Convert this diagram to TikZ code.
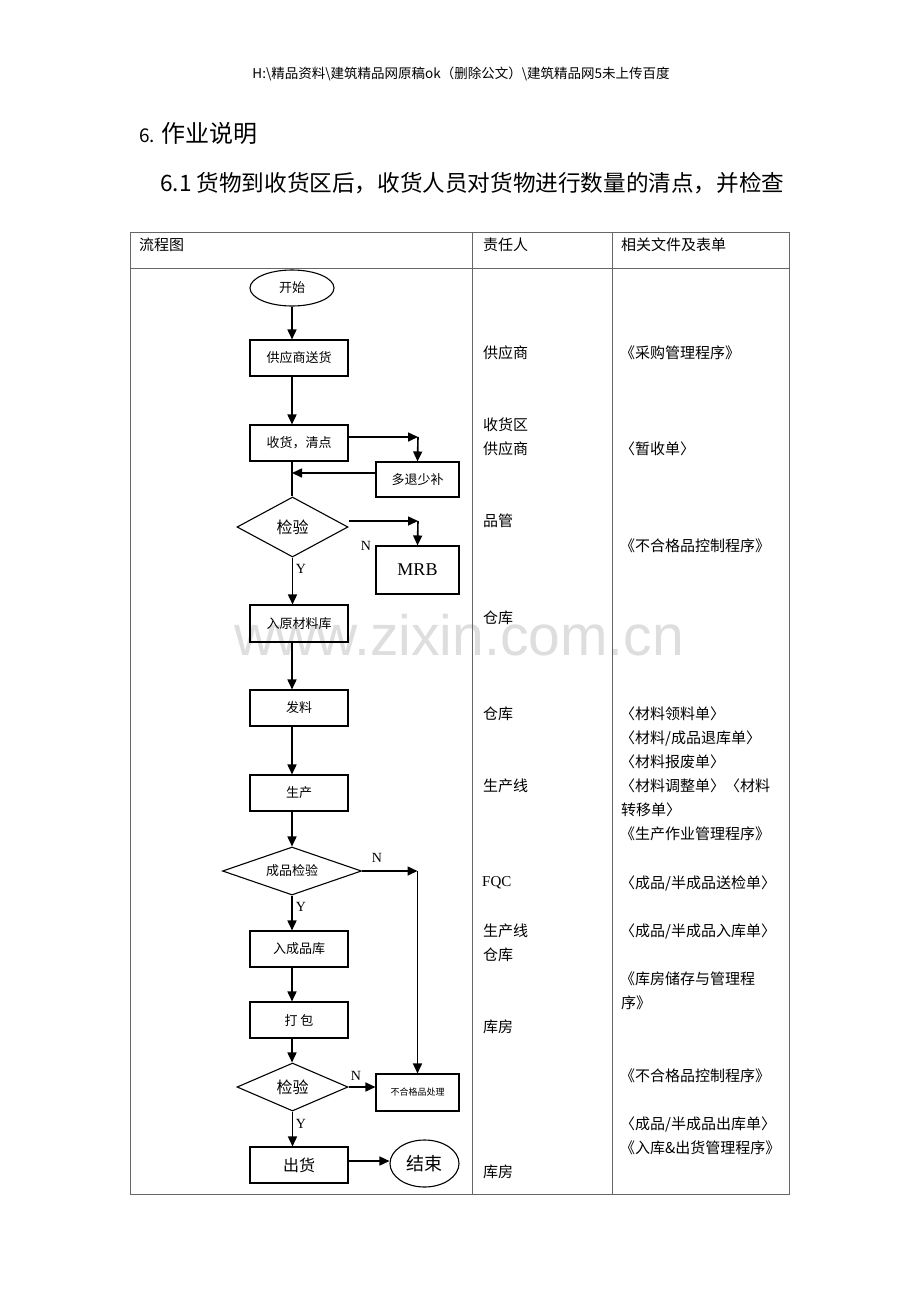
\documentclass[tikz,border=0pt]{standalone}
\usepackage{fontspec}
\setmainfont{Noto Sans CJK SC}
\newfontfamily\serifpart{Liberation Serif}
\newfontfamily\markfont{Liberation Sans}
\usepackage{tikz}
\usetikzlibrary{arrows.meta}
\usetikzlibrary{shapes.geometric}
\usetikzlibrary{calc}
\tikzset{flow/.style = {-{Triangle[length=10pt, width=9pt]}, line width=1.6pt}}
\tikzset{box/.style = {draw, line width=1.1pt, minimum width=98, minimum height=36,
                       inner sep=0, font=\fontsize{13}{15}\selectfont}}
\tikzset{sidebox/.style = {box, minimum width=83, minimum height=35}}
\tikzset{check/.style = {draw, diamond, aspect=2, line width=1.1pt, inner sep=0}}
\tikzset{term/.style = {draw, ellipse, line width=1.1pt, inner sep=0}}
\tikzset{yn/.style = {inner sep=0, font=\serifpart\fontsize{14}{14}\selectfont}}
\tikzset{cell/.style = {anchor=west, inner sep=0, font=\fontsize{15}{15}\selectfont}}
\definecolor{rulegray}{rgb}{0.4, 0.4, 0.4}
\definecolor{markgray}{rgb}{0.87, 0.87, 0.87}

\begin{document}
\begin{tikzpicture}[x=1pt, y=-1pt]
    \fill [white] (0, 0) rectangle (920, 1302);
    \useasboundingbox (0, 0) rectangle (920, 1302);

    \node (wmark) at (459, 635) [text=markgray, font=\markfont\fontsize{57}{57}\selectfont] {www.zixin.com.cn};

    \node (path) at (461, 74) [font=\fontsize{13.5}{14}\selectfont]
      {H:\textbackslash 精品资料\textbackslash 建筑精品网原稿ok（删除公文）\textbackslash 建筑精品网5未上传百度};
    \node (sec) at (139, 133) [anchor=west, inner sep=0, font=\fontsize{24}{24}\selectfont]
      {\makebox[22pt][l]{\fontsize{19}{19}\selectfont 6.}作业说明};
    \node (subsec) at (160, 183) [anchor=west, inner sep=0, font=\fontsize{22.6}{23}\selectfont]
      {6.1 货物到收货区后，收货人员对货物进行数量的清点，并检查};

    % table
    \draw [rulegray, line width=1pt] (130, 232) rectangle (789, 1194);
    \draw [rulegray, line width=1pt] (472, 232) -- (472, 1194);
    \draw [rulegray, line width=1pt] (612, 232) -- (612, 1194);
    \draw [rulegray, line width=1pt] (130, 268) -- (789, 268);

    \node (h1) at (139, 245) [cell] {流程图};
    \node (h2) at (483, 245) [cell] {责任人};
    \node (h3) at (621, 245) [cell] {相关文件及表单};

    % flow chart
    \node (start) at (292, 288) [term, minimum width=84, minimum height=36, font=\fontsize{13}{15}\selectfont] {开始};
    \node (supply) at (299, 358) [box] {供应商送货};
    \node (recv) at (299, 443) [box] {收货，清点};
    \node (fix) at (417.5, 479.5) [sidebox] {多退少补};
    \node (chk) at (292.5, 527) [check, minimum width=111, minimum height=60, font=\fontsize{16}{16}\selectfont] {检验};
    \node (mrb) at (417.5, 570) [sidebox, minimum height=48, font=\serifpart\fontsize{18}{18}\selectfont] {MRB};
    \node (raw) at (299, 623.5) [box, minimum height=37] {入原材料库};
    \node (issue) at (299, 708) [box] {发料};
    \node (prod) at (299, 793) [box] {生产};
    \node (fqc) at (292, 871) [check, minimum width=139, minimum height=48, font=\fontsize{13}{15}\selectfont] {成品检验};
    \node (store) at (299, 949) [box] {入成品库};
    \node (pack) at (299, 1020) [box] {打\ 包};
    \node (chkb) at (292.5, 1087) [check, minimum width=111, minimum height=48, font=\fontsize{16}{16}\selectfont] {检验};
    \node (reject) at (417.5, 1092.5) [sidebox, minimum height=37, font=\fontsize{9}{9}\selectfont] {不合格品处理};
    \node (ship) at (299, 1165) [box, font=\fontsize{16}{16}\selectfont] {出货};
    \node (stop) at (424.5, 1163.5) [term, minimum width=69, minimum height=47, font=\fontsize{18}{18}\selectfont] {结束};

    \coordinate (cA) at (418, 437);
    \coordinate (cB) at (418, 521);
    \coordinate (cC) at (417.5, 871);

    \draw [flow] (start.south) -- (start.south |- supply.north);
    \draw [flow] (supply.south -| start) -- (recv.north -| start);
    \draw [line width=1.6pt] (recv.south -| start) -- (chk.north -| start);
    \draw [flow] (recv.east |- cA) -- (cA);
    \draw [flow] (cA) -- (fix.north);
    \draw [flow] ([yshift=6.5pt]fix.west) -- ([yshift=6.5pt]fix.west -| start);
    \draw [flow] (chk.east |- cB) -- (cB);
    \draw [flow] (cB) -- (mrb.north);
    \draw [flow] (chk.south) -- (chk.south |- raw.north);
    \draw [flow] (raw.south -| start) -- (issue.north -| start);
    \draw [flow] (issue.south -| start) -- (prod.north -| start);
    \draw [flow] (prod.south -| start) -- (fqc.north);
    \draw [flow] (fqc.east) -- (cC);
    \draw [flow] (cC) -- (reject.north);
    \draw [flow] (fqc.south) -- (fqc.south |- store.north);
    \draw [flow] (store.south -| start) -- (pack.north -| start);
    \draw [flow] (pack.south -| start) -- (chkb.north -| start);
    \draw [flow] (chkb.east) -- (chkb.east -| reject.west);
    \draw [flow] (chkb.south) -- (chkb.south |- ship.north);
    \draw [flow] ([yshift=4pt]ship.east) -- ([yshift=4pt]ship.east -| stop.west);

    \node (n1) at (366, 546) [yn] {N};
    \node (y1) at (301, 569) [yn] {Y};
    \node (n2) at (377, 858) [yn] {N};
    \node (y2) at (301, 907) [yn] {Y};
    \node (n3) at (356, 1076) [yn] {N};
    \node (y3) at (301, 1124) [yn] {Y};

    % responsible
    \node (r1) at (483, 353) [cell] {供应商};
    \node (r2) at (483, 425) [cell] {收货区};
    \node (r3) at (483, 449) [cell] {供应商};
    \node (r4) at (483, 521) [cell] {品管};
    \node (r5) at (483, 618) [cell] {仓库};
    \node (r6) at (483, 714) [cell] {仓库};
    \node (r7) at (483, 786) [cell] {生产线};
    \node (r8) at (482, 883) [cell, font=\serifpart\fontsize{15}{15}\selectfont] {FQC};
    \node (r9) at (483, 931) [cell] {生产线};
    \node (r10) at (483, 955) [cell] {仓库};
    \node (r11) at (483, 1027) [cell] {库房};
    \node (r12) at (483, 1172) [cell] {库房};

    % documents
    \node (d1) at (620, 353) [cell] {《采购管理程序》};
    \node (d2) at (620, 449) [cell] {〈暂收单〉};
    \node (d3) at (620, 546) [cell] {《不合格品控制程序》};
    \node (d4) at (620, 714) [cell] {〈材料领料单〉};
    \node (d5) at (620, 738) [cell] {〈材料/成品退库单〉};
    \node (d6) at (620, 762) [cell] {〈材料报废单〉};
    \node (d7) at (620, 786) [cell] {〈材料调整单〉〈材料};
    \node (d8) at (621, 810) [cell] {转移单〉};
    \node (d9) at (620, 834) [cell] {《生产作业管理程序》};
    \node (d10) at (620, 883) [cell] {〈成品/半成品送检单〉};
    \node (d11) at (620, 931) [cell] {〈成品/半成品入库单〉};
    \node (d12) at (620, 979) [cell] {《库房储存与管理程};
    \node (d13) at (621, 1003) [cell] {序》};
    \node (d14) at (620, 1076) [cell] {《不合格品控制程序》};
    \node (d15) at (620, 1124) [cell] {〈成品/半成品出库单〉};
    \node (d16) at (620, 1148) [cell] {《入库\&出货管理程序》};
\end{tikzpicture}
\end{document}
